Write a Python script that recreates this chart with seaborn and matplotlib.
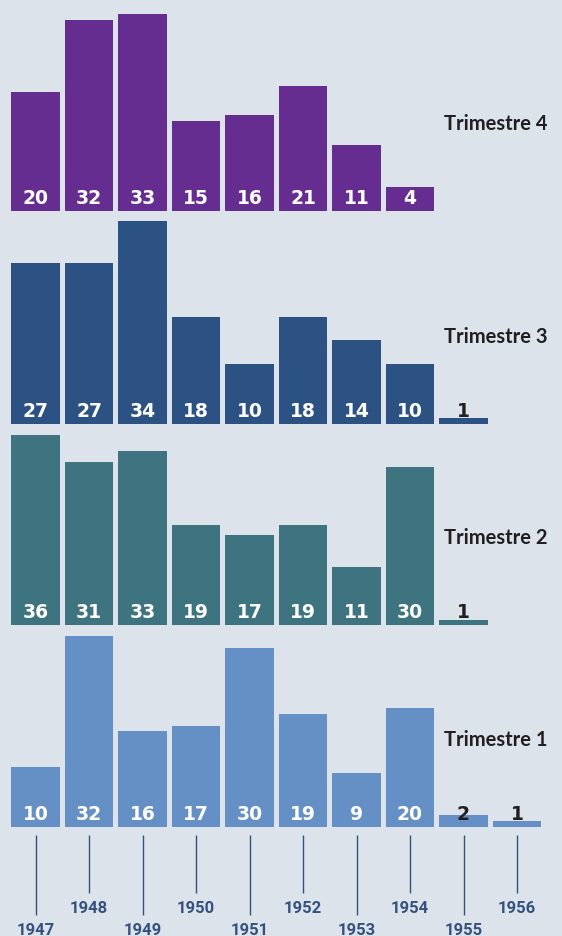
import numpy as np
import pandas as pd
import seaborn as sns
import matplotlib.pyplot as plt

# dados
anos = ['1947', '1948', '1949', '1950', '1951', '1952', '1953', '1954', '1955', '1956']
trim4 = [20, 32, 33, 15, 16, 21, 11, 4, np.nan, np.nan]
trim3 = [27, 27, 34, 18, 10, 18, 14, 10, 1, np.nan]
trim2 = [36, 31, 33, 19, 17, 19, 11, 30, 1, np.nan]
trim1 = [10, 32, 16, 17, 30, 19, 9, 20, 2, 1]
nomes = ['Trimestre 4', 'Trimestre 3', 'Trimestre 2', 'Trimestre 1']
cores = ['#662D91', '#2C5283', '#3D7480', '#6590C5']

fundo = '#DCE3EB'
escuro = '#231F20'
azul_ano = '#34527F'

sns.set_style('white')

W, H = 562, 936
fig = plt.figure(figsize=(W / 100, H / 100), dpi=100, facecolor=fundo)

# (linha de base, altura, topo do eixo y) em pixels
paineis = [(211, 206, 34.5), (424, 209, 35.0), (625, 195, 37.0), (827, 197, 33.0)]
x0, x1 = 8.75, 543.75

for serie, nome, cor, (base, alt, ytop) in zip([trim4, trim3, trim2, trim1], nomes, cores, paineis):
    ax = fig.add_axes([x0 / W, 1 - base / H, (x1 - x0) / W, alt / H])
    df = pd.DataFrame({'ano': anos, 'valor': serie})
    sns.barplot(data=df, x='ano', y='valor', order=anos, color=cor, width=0.91,
                saturation=1, linewidth=0, ax=ax)
    ax.set_xlim(-0.5, 9.5)
    ax.set_ylim(0, ytop)
    ax.axis('off')
    for i, v in enumerate(serie):
        if np.isnan(v):
            continue
        ax.annotate(f'{int(v)}', xy=(i, 0), xytext=(0, 5.2), textcoords='offset points',
                    ha='center', va='baseline', fontsize=13.5, fontweight='bold',
                    family='DejaVu Sans', color='white' if v >= 4 else escuro)
    fig.text(444 / W, 1 - (base - 87) / H, nome, ha='left', va='center', fontsize=14.5,
             fontweight='bold', family=['Lato', 'DejaVu Sans'], color=escuro)

# eixo dos anos
axa = fig.add_axes([x0 / W, 0, (x1 - x0) / W, (H - 830) / H])
axa.set_xlim(-0.5, 9.5)
axa.set_ylim(H, 830)
axa.axis('off')
for i, ano in enumerate(anos):
    fim = 915 if i % 2 == 0 else 893
    axa.vlines(i, 835, fim, color=azul_ano, lw=1)
    ty = 930 if i % 2 == 0 else 908
    axa.text(i, ty, ano, ha='center', va='center', fontsize=12, fontweight='semibold',
             family=['Roboto', 'DejaVu Sans'], color=azul_ano)

fig.savefig('out.png', dpi=100, facecolor=fundo)
